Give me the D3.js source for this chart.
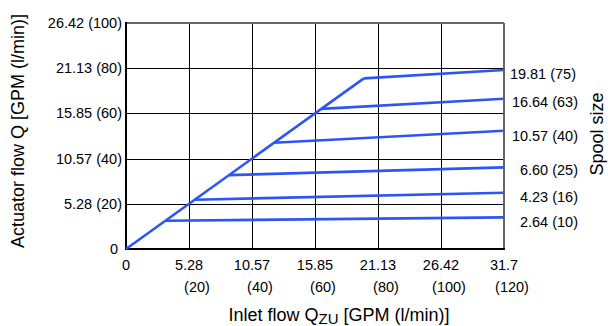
<!DOCTYPE html>
<html><head><meta charset="utf-8">
<script src="https://cdn.jsdelivr.net/npm/d3@7"></script>
<style>body{margin:0;background:#fff}svg{display:block;font-family:"Liberation Sans",Arial,sans-serif}</style>
</head><body><svg id="c" width="608" height="326"></svg>
<script>
const xTickVals = [0, 20, 40, 60, 80, 100, 120];
const xTickGpm = ["0", "5.28", "10.57", "15.85", "21.13", "26.42", "31.7"];
const xTickLpm = ["", "(20)", "(40)", "(60)", "(80)", "(100)", "(120)"];
const yTickVals = [0, 20, 40, 60, 80, 100];
const yTickLabels = ["0", "5.28 (20)", "10.57 (40)", "15.85 (60)", "21.13 (80)", "26.42 (100)"];
const spoolLabels = ["19.81 (75)", "16.64 (63)", "10.57 (40)", "6.60 (25)", "4.23 (16)", "2.64 (10)"];
const spoolKnee = [75.5, 62, 47, 32.7, 21.8, 12.5];
const spoolEnd = [79.2, 66.5, 52.3, 36.1, 24.9, 14.0];
const labelY = [74, 102, 135.7, 170, 196.7, 221.7];

const svg = d3.select("#c");
const x = d3.scaleLinear().domain([0, 120]).range([126, 504]);
const y = d3.scaleLinear().domain([0, 100]).range([249, 23]);

// grid
const g = svg.append("g");
xTickVals.slice(1, -1).forEach(v => {
  g.append("line").attr("x1", Math.round(x(v)) + 0.5).attr("x2", Math.round(x(v)) + 0.5)
    .attr("y1", y(100)).attr("y2", y(0)).attr("stroke", "#000").attr("stroke-width", 1);
});
yTickVals.slice(1, -1).forEach(v => {
  g.append("line").attr("y1", Math.round(y(v)) + 0.5).attr("y2", Math.round(y(v)) + 0.5)
    .attr("x1", x(0)).attr("x2", x(120)).attr("stroke", "#000").attr("stroke-width", 1);
});
// frame
g.append("line").attr("x1", x(0)).attr("x2", x(120)).attr("y1", y(100)).attr("y2", y(100)).attr("stroke", "#666").attr("stroke-width", 2);
g.append("line").attr("x1", x(120)).attr("x2", x(120)).attr("y1", y(100)).attr("y2", y(0)).attr("stroke", "#666").attr("stroke-width", 2);
g.append("line").attr("x1", x(0)).attr("x2", x(0)).attr("y1", y(100) - 1).attr("y2", y(0) + 1).attr("stroke", "#000").attr("stroke-width", 2);
g.append("line").attr("x1", x(0) - 1).attr("x2", x(120) + 1).attr("y1", y(0)).attr("y2", y(0)).attr("stroke", "#000").attr("stroke-width", 2);

// lines
const line = d3.line().x(d => x(d[0])).y(d => y(d[1]));
const blue = "#2d55f5";
const maxKnee = d3.max(spoolKnee);
svg.append("path").attr("d", line([[0, 0], [maxKnee, maxKnee]]))
  .attr("fill", "none").attr("stroke", blue).attr("stroke-width", 2.6);
spoolKnee.forEach((k, i) => {
  svg.append("path").attr("d", line([[k, k], [120, spoolEnd[i]]]))
    .attr("fill", "none").attr("stroke", blue).attr("stroke-width", 2.6).attr("stroke-linejoin", "round");
});

const fs = 14.5;
// y tick labels
yTickVals.forEach((v, i) => {
  svg.append("text").attr("x", i === 0 ? 118 : 122).attr("y", y(v)).attr("dy", "0.35em")
    .attr("text-anchor", "end").attr("font-size", fs).attr("fill", "#000").text(yTickLabels[i]);
});
// x tick labels
xTickVals.forEach((v, i) => {
  svg.append("text").attr("x", x(v)).attr("y", 265).attr("dy", "0.35em")
    .attr("text-anchor", "middle").attr("font-size", fs).text(xTickGpm[i]);
  if (xTickLpm[i]) svg.append("text").attr("x", x(v) + 8).attr("y", 286.5).attr("dy", "0.35em")
    .attr("text-anchor", "middle").attr("font-size", fs).text(xTickLpm[i]);
});
// spool labels
spoolLabels.forEach((s, i) => {
  svg.append("text").attr("x", i === 0 ? 576 : 578).attr("y", labelY[i]).attr("dy", "0.35em")
    .attr("text-anchor", "end").attr("font-size", fs).text(s);
});
// titles
svg.append("text").attr("transform", "translate(24,131) rotate(-90)").attr("text-anchor", "middle")
  .attr("font-size", 18).text("Actuator flow Q [GPM (l/min)]");
svg.append("text").attr("transform", "translate(603,134) rotate(-90)").attr("text-anchor", "middle")
  .attr("font-size", 18).text("Spool size");
const xt = svg.append("text").attr("x", 339).attr("y", 321).attr("text-anchor", "middle").attr("font-size", 18);
xt.append("tspan").text("Inlet flow Q");
xt.append("tspan").attr("font-size", 15).attr("dy", 3).text("ZU");
xt.append("tspan").attr("dy", -3).text(" [GPM (l/min)]");
</script></body></html>
